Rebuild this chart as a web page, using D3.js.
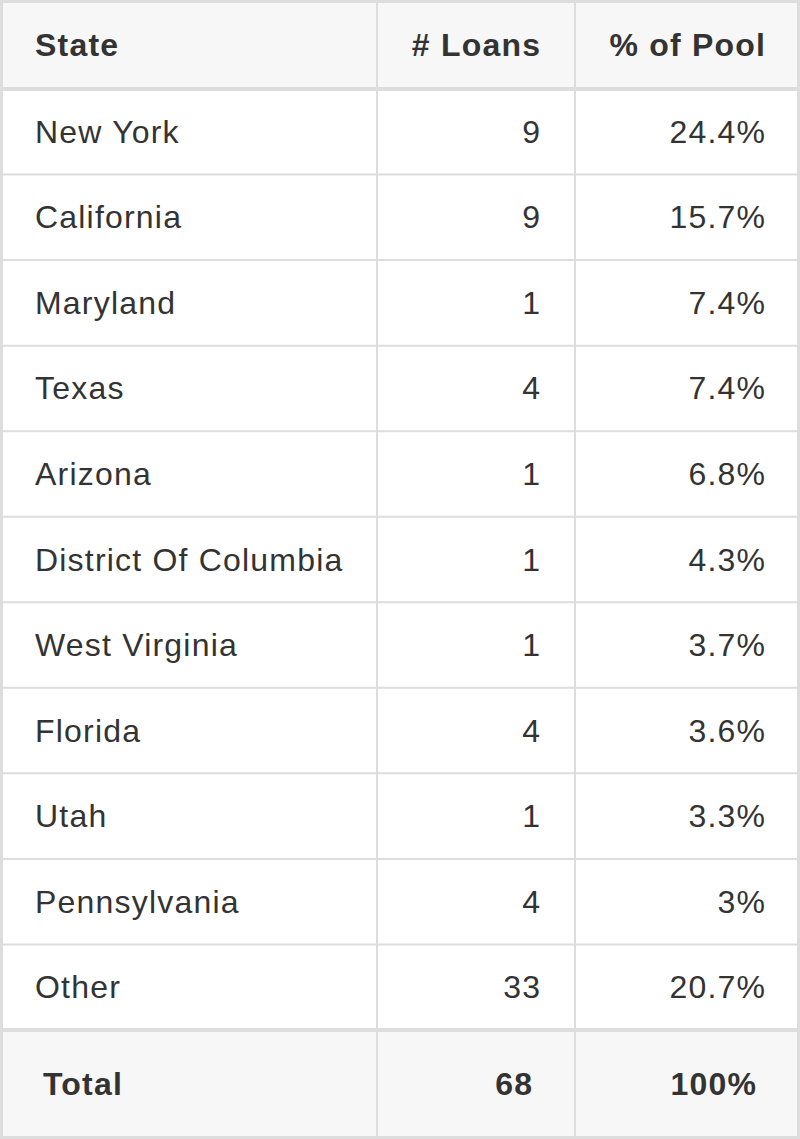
<!DOCTYPE html>
<html><head><meta charset="utf-8">
<script src="https://cdn.jsdelivr.net/npm/d3@7"></script>
<style>body{margin:0;background:#fff}</style></head>
<body><svg id="c" width="800" height="1139"></svg>
<script>
const headers = ["State", "# Loans", "% of Pool"];
const states = ["New York","California","Maryland","Texas","Arizona","District Of Columbia","West Virginia","Florida","Utah","Pennsylvania","Other"];
const loans = [9,9,1,4,1,1,1,4,1,4,33];
const pool = ["24.4%","15.7%","7.4%","7.4%","6.8%","4.3%","3.7%","3.6%","3.3%","3%","20.7%"];
const total = ["Total","68","100%"];

const svg = d3.select("#c");
const font = "'Liberation Sans', Arial, Helvetica, sans-serif";
const colX = [1.5, 377, 575, 798.5];
const y = d3.scaleBand().domain(d3.range(states.length)).range([89, 1030]);
const gray = "#f7f7f7", line = "#dddddd";

svg.append("rect").attr("x",0).attr("y",0).attr("width",800).attr("height",89).attr("fill",gray);
svg.append("rect").attr("x",0).attr("y",1030).attr("width",800).attr("height",109).attr("fill",gray);

y.domain().slice(1).forEach(i=>{
  svg.append("line").attr("x1",0).attr("x2",800).attr("y1",y(i)).attr("y2",y(i)).attr("stroke",line).attr("stroke-width",2);
});
[[1.5,3],[89,4],[1030,4],[1137.5,3]].forEach(([yy,w])=>svg.append("line").attr("x1",0).attr("x2",800).attr("y1",yy).attr("y2",yy).attr("stroke",line).attr("stroke-width",w));
colX.forEach(x=>svg.append("line").attr("x1",x).attr("x2",x).attr("y1",0).attr("y2",1139).attr("stroke",line).attr("stroke-width",x<2||x>798?3:2));

function txt(t,x,yy,anchor,bold){
  const s = String(t);
  // letter-spacing adds trailing space; compensate for end-anchored text
  const ls = 1.2;
  svg.append("text").attr("x",anchor==="end"?x+ls:x).attr("y",yy).attr("text-anchor",anchor).attr("dominant-baseline","central")
   .attr("font-family",font).attr("font-size",32).attr("letter-spacing",ls).attr("font-weight",bold?"bold":"normal").attr("fill","#333").text(s);
}
txt(headers[0],35,45,"start",true);
txt(headers[1],540,45,"end",true);
txt(headers[2],765,45,"end",true);
states.forEach((s,i)=>{
  const cy = y(i)+y.bandwidth()/2;
  txt(s,35,cy,"start",false);
  txt(loans[i],540,cy,"end",false);
  txt(pool[i],765,cy,"end",false);
});
txt(total[0],43,1084,"start",true);
txt(total[1],532,1084,"end",true);
txt(total[2],756,1084,"end",true);
</script></body></html>
